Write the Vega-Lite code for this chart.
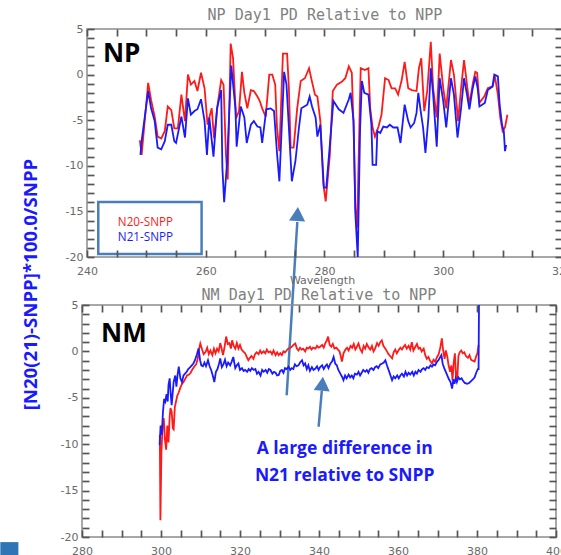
{
  "$schema": "https://vega.github.io/schema/vega-lite/v6.json",
  "background": "white",
  "autosize": {"type": "pad"},
  "padding": {"left": 0, "top": 8, "right": 0, "bottom": 0},
  "config": {
    "view": {"stroke": null},
    "axis": {"domain": false, "grid": false, "labelColor": "#6a6a6a", "labelFont": "DejaVu Sans", "labelFontSize": 11, "tickColor": "#555555", "tickWidth": 1.7, "labelFlush": false, "labelOverlap": false, "titleColor": "#6a6a6a", "titleFont": "DejaVu Sans", "titleFontSize": 11, "titleFontWeight": "normal"},
    "title": {"font": "DejaVu Sans Mono", "fontSize": 15, "fontWeight": "normal", "color": "#808080"}
  },
  "datasets": {
    "np20": [
      {"x":248.9,"y":-7.2},{"x":249.2,"y":-8.8},{"x":250.3,"y":-0.9},{"x":250.8,"y":-2.8},{"x":251.4,"y":-4.6},{"x":251.9,"y":-6.8},{"x":252.5,"y":-7.0},{"x":253.1,"y":-6.2},{"x":253.6,"y":-3.5},{"x":254.2,"y":-3.9},{"x":254.7,"y":-5.9},{"x":255.3,"y":-5.9},{"x":255.9,"y":-2.2},{"x":256.2,"y":-3.7},{"x":256.5,"y":-5.1},{"x":257.0,"y":0.0},{"x":257.5,"y":-1.1},{"x":258.1,"y":-0.7},{"x":258.6,"y":-1.8},{"x":259.2,"y":0.2},{"x":259.8,"y":-1.5},{"x":260.3,"y":-5.5},{"x":261.0,"y":-3.7},{"x":261.4,"y":-7.0},{"x":262.0,"y":-3.3},{"x":262.6,"y":-0.6},{"x":263.0,"y":-1.1},{"x":263.4,"y":-8.8},{"x":263.7,"y":-11.5},{"x":264.2,"y":3.4},{"x":264.6,"y":1.8},{"x":265.1,"y":-4.8},{"x":265.6,"y":-4.0},{"x":266.1,"y":0.3},{"x":266.5,"y":-2.0},{"x":267.0,"y":-3.7},{"x":267.6,"y":-1.7},{"x":268.1,"y":-1.8},{"x":268.7,"y":-2.4},{"x":269.1,"y":-2.9},{"x":269.5,"y":-3.7},{"x":270.1,"y":-4.6},{"x":270.7,"y":0.0},{"x":271.2,"y":0.0},{"x":271.7,"y":-1.1},{"x":272.0,"y":-5.8},{"x":272.4,"y":-8.4},{"x":273.0,"y":2.3},{"x":273.7,"y":2.3},{"x":274.0,"y":-1.5},{"x":274.3,"y":-8.0},{"x":274.8,"y":-8.0},{"x":275.4,"y":-3.7},{"x":276.0,"y":-0.7},{"x":276.7,"y":-0.4},{"x":277.4,"y":0.7},{"x":277.9,"y":-0.8},{"x":278.4,"y":-2.2},{"x":278.8,"y":-2.4},{"x":279.3,"y":-5.1},{"x":279.8,"y":-12.0},{"x":280.2,"y":-13.9},{"x":280.9,"y":-8.8},{"x":281.4,"y":-1.8},{"x":282.1,"y":-1.1},{"x":282.9,"y":-0.8},{"x":283.5,"y":-0.4},{"x":284.1,"y":0.9},{"x":284.6,"y":0.2},{"x":284.9,"y":-5.8},{"x":285.2,"y":-14.6},{"x":285.5,"y":-16.8},{"x":285.9,"y":-4.8},{"x":286.1,"y":0.7},{"x":286.8,"y":0.5},{"x":287.4,"y":0.7},{"x":287.7,"y":-3.7},{"x":288.1,"y":-5.8},{"x":288.5,"y":-6.8},{"x":289.1,"y":-5.7},{"x":289.6,"y":-4.4},{"x":290.2,"y":-0.4},{"x":290.8,"y":-0.6},{"x":291.3,"y":-1.5},{"x":291.9,"y":-1.5},{"x":292.4,"y":-2.2},{"x":293.0,"y":-0.6},{"x":293.5,"y":1.4},{"x":294.1,"y":-1.5},{"x":294.7,"y":-1.7},{"x":295.5,"y":-1.8},{"x":295.9,"y":0.7},{"x":296.3,"y":1.8},{"x":296.8,"y":-4.0},{"x":297.3,"y":-1.8},{"x":297.9,"y":3.6},{"x":298.3,"y":-1.5},{"x":298.9,"y":-4.7},{"x":299.4,"y":2.3},{"x":300.0,"y":-1.5},{"x":300.5,"y":-3.7},{"x":301.3,"y":1.6},{"x":301.8,"y":0.0},{"x":302.5,"y":-5.1},{"x":303.0,"y":-1.5},{"x":303.5,"y":1.6},{"x":304.0,"y":-1.1},{"x":304.4,"y":-3.3},{"x":305.0,"y":-0.9},{"x":305.4,"y":0.3},{"x":305.7,"y":0.2},{"x":306.1,"y":-3.1},{"x":306.9,"y":-2.4},{"x":307.5,"y":-1.5},{"x":308.3,"y":-1.3},{"x":308.7,"y":-0.2},{"x":309.2,"y":-2.2},{"x":309.6,"y":-4.7},{"x":310.0,"y":-6.2},{"x":310.4,"y":-5.8},{"x":310.8,"y":-4.4}
    ],
    "np21": [
      {"x":249.0,"y":-8.8},{"x":249.2,"y":-7.3},{"x":250.3,"y":-1.8},{"x":250.8,"y":-3.7},{"x":251.4,"y":-5.1},{"x":251.9,"y":-8.0},{"x":252.5,"y":-8.2},{"x":253.1,"y":-7.3},{"x":253.6,"y":-5.5},{"x":254.2,"y":-5.5},{"x":254.7,"y":-7.3},{"x":255.0,"y":-7.5},{"x":255.9,"y":-4.6},{"x":256.5,"y":-6.9},{"x":257.0,"y":-2.6},{"x":257.5,"y":-4.4},{"x":258.1,"y":-4.0},{"x":258.6,"y":-3.8},{"x":259.2,"y":-2.7},{"x":259.8,"y":-5.1},{"x":260.2,"y":-8.8},{"x":260.6,"y":-4.7},{"x":261.3,"y":-9.0},{"x":261.9,"y":-3.7},{"x":262.6,"y":-1.7},{"x":262.8,"y":-10.2},{"x":263.1,"y":-14.0},{"x":263.6,"y":-9.5},{"x":264.3,"y":1.0},{"x":265.0,"y":-3.7},{"x":265.2,"y":-7.9},{"x":265.9,"y":-3.5},{"x":266.5,"y":-4.7},{"x":266.9,"y":-7.5},{"x":267.6,"y":-5.5},{"x":268.1,"y":-5.1},{"x":268.7,"y":-5.7},{"x":269.2,"y":-5.8},{"x":269.5,"y":-7.5},{"x":270.2,"y":-3.8},{"x":270.9,"y":-3.7},{"x":271.5,"y":-4.0},{"x":272.0,"y":-8.6},{"x":272.4,"y":-11.7},{"x":273.2,"y":0.3},{"x":273.6,"y":-1.1},{"x":274.0,"y":-5.8},{"x":274.5,"y":-11.7},{"x":275.1,"y":-9.5},{"x":275.7,"y":-5.8},{"x":276.1,"y":-3.7},{"x":277.1,"y":-3.3},{"x":277.5,"y":-2.4},{"x":277.9,"y":-3.5},{"x":278.5,"y":-4.7},{"x":278.8,"y":-6.8},{"x":279.3,"y":-5.5},{"x":279.9,"y":-12.4},{"x":280.3,"y":-12.4},{"x":280.9,"y":-7.7},{"x":281.5,"y":-2.9},{"x":282.4,"y":-3.8},{"x":283.2,"y":-4.2},{"x":284.1,"y":-2.7},{"x":284.4,"y":-2.0},{"x":284.9,"y":-5.1},{"x":285.2,"y":-15.3},{"x":285.6,"y":-20.0},{"x":286.0,"y":-5.8},{"x":286.3,"y":-0.7},{"x":286.7,"y":-2.0},{"x":287.4,"y":-2.2},{"x":287.9,"y":-5.5},{"x":288.1,"y":-9.9},{"x":288.7,"y":-9.9},{"x":288.9,"y":-6.2},{"x":289.4,"y":-6.4},{"x":289.9,"y":-5.7},{"x":290.5,"y":-5.8},{"x":291.0,"y":-5.5},{"x":291.6,"y":-5.8},{"x":292.3,"y":-5.8},{"x":292.8,"y":-7.5},{"x":293.5,"y":-3.3},{"x":294.1,"y":-5.1},{"x":294.5,"y":-5.8},{"x":295.1,"y":-5.3},{"x":295.5,"y":-4.2},{"x":295.8,"y":-2.0},{"x":296.2,"y":-4.0},{"x":296.6,"y":-5.8},{"x":297.0,"y":-8.6},{"x":297.5,"y":-4.7},{"x":297.9,"y":0.7},{"x":298.3,"y":-2.2},{"x":298.9,"y":-7.9},{"x":299.4,"y":-0.4},{"x":300.0,"y":-2.9},{"x":300.5,"y":-5.8},{"x":301.3,"y":-0.4},{"x":301.8,"y":-2.2},{"x":302.4,"y":-6.9},{"x":303.0,"y":-3.7},{"x":303.5,"y":-0.4},{"x":304.0,"y":-2.2},{"x":304.4,"y":-3.8},{"x":304.9,"y":-1.7},{"x":305.4,"y":-0.2},{"x":305.8,"y":-1.5},{"x":306.1,"y":-3.5},{"x":307.0,"y":-3.1},{"x":307.5,"y":-1.7},{"x":308.3,"y":-1.3},{"x":308.6,"y":0.0},{"x":309.2,"y":-0.2},{"x":309.5,"y":-3.3},{"x":309.9,"y":-5.5},{"x":310.2,"y":-6.2},{"x":310.4,"y":-8.4},{"x":310.6,"y":-7.7}
    ],
    "nm20": [
      {"x":299.7,"y":-9.0},{"x":299.85,"y":-18.2},{"x":300.1,"y":-11.0},{"x":300.4,"y":-8.0},{"x":300.7,"y":-7.2},{"x":301.0,"y":-9.5},{"x":301.3,"y":-10.6},{"x":301.6,"y":-8.0},{"x":301.9,"y":-9.8},{"x":302.2,"y":-7.0},{"x":302.4,"y":-6.1},{"x":302.7,"y":-6.5},{"x":303.0,"y":-8.3},{"x":303.2,"y":-8.4},{"x":303.5,"y":-6.0},{"x":303.8,"y":-5.4},{"x":304.1,"y":-4.8},{"x":304.5,"y":-4.4},{"x":304.9,"y":-3.9},{"x":305.3,"y":-3.5},{"x":305.7,"y":-3.3},{"x":306.2,"y":-2.9},{"x":306.6,"y":-2.6},{"x":307.1,"y":-2.5},{"x":307.5,"y":-2.3},{"x":308.0,"y":-1.9},{"x":308.4,"y":-1.65},{"x":308.9,"y":-1.4},{"x":309.3,"y":-0.8},{"x":309.6,"y":0.2},{"x":309.95,"y":0.85},{"x":310.4,"y":0.2},{"x":310.8,"y":-0.3},{"x":311.3,"y":-0.05},{"x":311.7,"y":0.4},{"x":312.1,"y":-0.3},{"x":312.5,"y":0.1},{"x":313.0,"y":-0.4},{"x":313.4,"y":0.3},{"x":313.8,"y":-0.2},{"x":314.2,"y":0.3},{"x":314.6,"y":0.0},{"x":315.0,"y":0.9},{"x":315.3,"y":0.4},{"x":315.7,"y":-0.4},{"x":316.1,"y":0.5},{"x":316.5,"y":1.6},{"x":316.9,"y":0.8},{"x":317.3,"y":0.9},{"x":317.7,"y":0.3},{"x":318.0,"y":1.2},{"x":318.4,"y":0.6},{"x":318.8,"y":0.3},{"x":319.2,"y":0.9},{"x":319.6,"y":0.3},{"x":320.0,"y":0.7},{"x":320.4,"y":0.2},{"x":320.8,"y":0.0},{"x":321.3,"y":-0.2},{"x":321.7,"y":-0.6},{"x":322.1,"y":-0.95},{"x":322.5,"y":-0.7},{"x":322.9,"y":-0.5},{"x":323.4,"y":-0.8},{"x":323.8,"y":-0.3},{"x":324.2,"y":-0.1},{"x":324.7,"y":-0.3},{"x":325.1,"y":0.1},{"x":325.5,"y":-0.2},{"x":326.0,"y":0.0},{"x":326.4,"y":-0.2},{"x":326.8,"y":0.2},{"x":327.2,"y":-0.1},{"x":327.7,"y":0.0},{"x":328.1,"y":-0.3},{"x":328.5,"y":0.1},{"x":329.0,"y":-0.4},{"x":329.4,"y":-0.1},{"x":329.8,"y":-0.4},{"x":330.2,"y":-0.2},{"x":330.6,"y":-0.4},{"x":331.0,"y":0.0},{"x":331.4,"y":-0.1},{"x":331.8,"y":0.1},{"x":332.2,"y":0.3},{"x":332.7,"y":0.4},{"x":333.1,"y":0.5},{"x":333.5,"y":0.7},{"x":334.0,"y":0.85},{"x":334.4,"y":0.3},{"x":334.8,"y":0.1},{"x":335.2,"y":0.4},{"x":335.6,"y":0.2},{"x":336.0,"y":0.3},{"x":336.5,"y":0.0},{"x":336.9,"y":0.4},{"x":337.3,"y":0.3},{"x":337.7,"y":0.5},{"x":338.1,"y":0.2},{"x":338.5,"y":0.4},{"x":339.1,"y":0.3},{"x":339.5,"y":0.6},{"x":339.9,"y":0.4},{"x":340.3,"y":0.5},{"x":340.8,"y":0.7},{"x":341.2,"y":0.4},{"x":341.6,"y":0.9},{"x":342.0,"y":1.2},{"x":342.3,"y":1.6},{"x":342.7,"y":0.7},{"x":343.1,"y":0.5},{"x":343.5,"y":0.8},{"x":343.9,"y":0.3},{"x":344.4,"y":0.4},{"x":344.8,"y":0.2},{"x":345.2,"y":0.0},{"x":345.5,"y":-0.5},{"x":345.8,"y":-1.1},{"x":346.2,"y":-0.2},{"x":346.7,"y":0.2},{"x":347.1,"y":0.4},{"x":347.5,"y":0.1},{"x":348.0,"y":0.6},{"x":348.4,"y":0.4},{"x":348.8,"y":0.8},{"x":349.2,"y":0.2},{"x":349.6,"y":0.5},{"x":350.0,"y":0.85},{"x":350.4,"y":0.3},{"x":350.9,"y":-0.1},{"x":351.3,"y":0.6},{"x":351.7,"y":0.3},{"x":352.1,"y":0.8},{"x":352.6,"y":0.4},{"x":353.0,"y":0.2},{"x":353.4,"y":0.6},{"x":353.8,"y":0.0},{"x":354.2,"y":0.3},{"x":354.7,"y":0.9},{"x":355.1,"y":0.6},{"x":355.5,"y":1.0},{"x":355.9,"y":1.2},{"x":356.3,"y":0.6},{"x":356.8,"y":0.3},{"x":357.2,"y":0.0},{"x":357.6,"y":-0.3},{"x":358.0,"y":-0.5},{"x":358.5,"y":-0.75},{"x":358.9,"y":-0.1},{"x":359.3,"y":0.2},{"x":359.7,"y":-0.2},{"x":360.1,"y":0.1},{"x":360.6,"y":0.4},{"x":361.0,"y":0.2},{"x":361.4,"y":0.5},{"x":361.8,"y":0.7},{"x":362.2,"y":0.3},{"x":362.7,"y":0.6},{"x":363.1,"y":0.2},{"x":363.5,"y":1.0},{"x":363.9,"y":0.1},{"x":364.4,"y":0.5},{"x":364.8,"y":0.8},{"x":365.2,"y":0.3},{"x":365.6,"y":0.4},{"x":366.0,"y":0.0},{"x":366.5,"y":0.3},{"x":366.9,"y":-0.4},{"x":367.3,"y":-0.8},{"x":367.7,"y":-0.6},{"x":368.1,"y":-1.0},{"x":368.6,"y":-1.3},{"x":369.0,"y":-0.9},{"x":369.4,"y":-1.1},{"x":369.9,"y":-0.6},{"x":370.3,"y":-0.3},{"x":370.7,"y":0.4},{"x":371.1,"y":1.4},{"x":371.4,"y":0.2},{"x":371.8,"y":-0.8},{"x":372.1,"y":0.1},{"x":372.5,"y":-0.6},{"x":372.8,"y":-1.5},{"x":373.2,"y":-2.2},{"x":373.5,"y":-1.5},{"x":373.8,"y":-3.1},{"x":374.1,"y":-1.2},{"x":374.4,"y":-0.2},{"x":374.7,"y":-2.8},{"x":375.0,"y":-3.0},{"x":375.3,"y":-0.5},{"x":375.6,"y":-0.1},{"x":376.0,"y":0.1},{"x":376.4,"y":-0.2},{"x":376.8,"y":-0.1},{"x":377.2,"y":-0.5},{"x":377.7,"y":-0.7},{"x":378.1,"y":-0.4},{"x":378.5,"y":-0.9},{"x":378.9,"y":-1.0},{"x":379.4,"y":-1.1},{"x":379.8,"y":-0.5},{"x":380.1,"y":-0.2},{"x":380.4,"y":0.7}
    ],
    "nm21": [
      {"x":299.65,"y":-10.1},{"x":299.9,"y":-8.0},{"x":300.2,"y":-9.0},{"x":300.5,"y":-6.5},{"x":300.8,"y":-5.1},{"x":301.1,"y":-5.4},{"x":301.4,"y":-4.6},{"x":301.7,"y":-5.4},{"x":301.9,"y":-3.6},{"x":302.2,"y":-2.9},{"x":302.4,"y":-4.3},{"x":302.7,"y":-5.8},{"x":302.9,"y":-4.8},{"x":303.2,"y":-3.3},{"x":303.6,"y":-2.6},{"x":303.9,"y":-3.8},{"x":304.2,"y":-2.5},{"x":304.5,"y":-1.65},{"x":304.9,"y":-2.9},{"x":305.3,"y":-3.3},{"x":305.7,"y":-2.6},{"x":306.1,"y":-2.4},{"x":306.5,"y":-2.2},{"x":306.9,"y":-1.9},{"x":307.4,"y":-1.7},{"x":307.8,"y":-1.5},{"x":308.2,"y":-1.3},{"x":308.6,"y":-0.95},{"x":309.1,"y":-0.3},{"x":309.5,"y":0.3},{"x":309.9,"y":-0.95},{"x":310.2,"y":-1.5},{"x":310.6,"y":-1.6},{"x":311.0,"y":-1.2},{"x":311.4,"y":-1.6},{"x":311.9,"y":-0.95},{"x":312.3,"y":-1.6},{"x":312.7,"y":-2.0},{"x":313.1,"y":-2.6},{"x":313.5,"y":-3.3},{"x":313.9,"y":-2.2},{"x":314.3,"y":-1.9},{"x":314.7,"y":-1.3},{"x":315.0,"y":-0.75},{"x":315.4,"y":-1.7},{"x":315.8,"y":-1.4},{"x":316.2,"y":-0.9},{"x":316.6,"y":-1.6},{"x":317.0,"y":-1.2},{"x":317.5,"y":-1.5},{"x":317.9,"y":-1.1},{"x":318.3,"y":-0.6},{"x":318.8,"y":-1.8},{"x":319.2,"y":-1.5},{"x":319.6,"y":-1.3},{"x":320.0,"y":-2.0},{"x":320.5,"y":-1.8},{"x":320.9,"y":-2.1},{"x":321.3,"y":-2.0},{"x":321.8,"y":-2.2},{"x":322.2,"y":-1.9},{"x":322.6,"y":-2.1},{"x":323.0,"y":-1.8},{"x":323.5,"y":-2.0},{"x":323.9,"y":-1.9},{"x":324.3,"y":-2.4},{"x":324.7,"y":-2.2},{"x":325.2,"y":-2.6},{"x":325.6,"y":-2.0},{"x":326.0,"y":-2.2},{"x":326.5,"y":-2.0},{"x":326.9,"y":-2.3},{"x":327.3,"y":-1.9},{"x":327.7,"y":-2.0},{"x":328.2,"y":-2.4},{"x":328.6,"y":-2.2},{"x":329.0,"y":-2.3},{"x":329.4,"y":-2.6},{"x":329.8,"y":-2.55},{"x":330.2,"y":-2.1},{"x":330.6,"y":-2.0},{"x":331.0,"y":-2.3},{"x":331.4,"y":-1.8},{"x":331.8,"y":-1.9},{"x":332.3,"y":-1.65},{"x":332.7,"y":-2.0},{"x":333.1,"y":-1.8},{"x":333.5,"y":-1.9},{"x":333.9,"y":-1.4},{"x":334.3,"y":-1.6},{"x":334.8,"y":-1.5},{"x":335.2,"y":-1.2},{"x":335.7,"y":-0.95},{"x":336.1,"y":-1.5},{"x":336.5,"y":-1.3},{"x":336.9,"y":-1.9},{"x":337.3,"y":-1.5},{"x":337.7,"y":-2.1},{"x":338.2,"y":-1.7},{"x":338.6,"y":-2.0},{"x":339.1,"y":-1.85},{"x":339.5,"y":-1.6},{"x":339.9,"y":-2.0},{"x":340.3,"y":-1.7},{"x":340.8,"y":-1.5},{"x":341.2,"y":-1.9},{"x":341.6,"y":-1.6},{"x":342.0,"y":-1.4},{"x":342.4,"y":-1.8},{"x":342.9,"y":-1.3},{"x":343.3,"y":-1.1},{"x":343.7,"y":-0.6},{"x":344.1,"y":-1.3},{"x":344.5,"y":-1.5},{"x":344.9,"y":-2.0},{"x":345.4,"y":-2.4},{"x":345.8,"y":-2.7},{"x":346.2,"y":-3.1},{"x":346.6,"y":-2.6},{"x":347.0,"y":-2.9},{"x":347.5,"y":-2.5},{"x":347.9,"y":-2.8},{"x":348.3,"y":-2.6},{"x":348.7,"y":-2.9},{"x":349.1,"y":-2.4},{"x":349.6,"y":-2.5},{"x":350.0,"y":-2.2},{"x":350.4,"y":-2.6},{"x":350.8,"y":-2.3},{"x":351.2,"y":-2.0},{"x":351.7,"y":-2.2},{"x":352.1,"y":-2.0},{"x":352.5,"y":-2.3},{"x":352.9,"y":-1.9},{"x":353.3,"y":-1.8},{"x":353.8,"y":-2.0},{"x":354.2,"y":-1.7},{"x":354.6,"y":-1.6},{"x":355.0,"y":-1.8},{"x":355.5,"y":-1.4},{"x":356.0,"y":-1.3},{"x":356.4,"y":-1.2},{"x":356.8,"y":-0.95},{"x":357.2,"y":-1.5},{"x":357.7,"y":-2.1},{"x":358.1,"y":-2.6},{"x":358.5,"y":-3.1},{"x":358.9,"y":-2.7},{"x":359.3,"y":-2.9},{"x":359.8,"y":-2.6},{"x":360.2,"y":-2.9},{"x":360.6,"y":-2.6},{"x":361.0,"y":-2.4},{"x":361.5,"y":-2.7},{"x":361.9,"y":-2.2},{"x":362.3,"y":-2.6},{"x":362.7,"y":-2.3},{"x":363.1,"y":-2.5},{"x":363.6,"y":-2.2},{"x":364.0,"y":-2.6},{"x":364.4,"y":-2.2},{"x":364.8,"y":-2.4},{"x":365.2,"y":-2.0},{"x":365.7,"y":-2.2},{"x":366.1,"y":-1.9},{"x":366.5,"y":-1.8},{"x":366.9,"y":-2.0},{"x":367.3,"y":-1.7},{"x":367.8,"y":-1.8},{"x":368.2,"y":-1.5},{"x":368.6,"y":-1.65},{"x":369.0,"y":-1.4},{"x":369.4,"y":-1.5},{"x":369.9,"y":-1.1},{"x":370.3,"y":-0.9},{"x":370.7,"y":-0.6},{"x":371.0,"y":-0.4},{"x":371.3,"y":-1.3},{"x":371.7,"y":-1.8},{"x":372.1,"y":-2.2},{"x":372.5,"y":-2.6},{"x":372.9,"y":-3.0},{"x":373.3,"y":-3.3},{"x":373.7,"y":-4.0},{"x":374.0,"y":-3.0},{"x":374.3,"y":-3.5},{"x":374.6,"y":-2.9},{"x":374.9,"y":-3.3},{"x":375.3,"y":-2.8},{"x":375.7,"y":-3.0},{"x":376.1,"y":-2.9},{"x":376.5,"y":-3.2},{"x":376.9,"y":-3.4},{"x":377.5,"y":-3.5},{"x":378.0,"y":-3.4},{"x":378.5,"y":-3.2},{"x":379.0,"y":-3.0},{"x":379.4,"y":-2.8},{"x":379.8,"y":-2.3},{"x":380.2,"y":-1.9},{"x":380.4,"y":-1.9},{"x":380.5,"y":5.0}
    ]
  },
  "bounds": "flush",
  "spacing": 48,
  "vconcat": [
    {
      "width": 480,
      "height": 228,
      "title": {"text": "NP Day1 PD Relative to NPP", "offset": 0, "dx": 3},
      "layer": [
        {
          "data": {"values": [{"x0": 240, "x1": 320, "y0": -20, "y1": 5}]},
          "mark": {"type": "rect", "fill": "transparent", "stroke": "#8c8c8c", "strokeWidth": 1.5},
          "encoding": {
            "x": {"field": "x0", "type": "quantitative", "scale": {"domain": [239.158, 320], "nice": false, "zero": false},
              "axis": {"orient": "bottom", "values": [240,245,250,255,260,265,270,275,280,285,290,295,300,305,310,315,320], "labelExpr": "datum.value % 20 === 0 ? '' + datum.value : ''", "tickSize": -7, "tickColor": "#555555", "zindex": 5, "labelPadding": 15, "title": "Wavelength", "titlePadding": -2}},
            "x2": {"field": "x1"},
            "y": {"field": "y0", "type": "quantitative", "scale": {"domain": [-20, 5], "nice": false, "zero": false},
              "axis": {"orient": "left", "offset": -5, "values": [-20,-19,-18,-17,-16,-15,-14,-13,-12,-11,-10,-9,-8,-7,-6,-5,-4,-3,-2,-1,0,1,2,3,4,5], "labelExpr": "datum.value % 5 === 0 ? '' + datum.value : ''", "tickSize": -7, "tickColor": "#555555", "zindex": 5, "labelPadding": 11, "title": null}},
            "y2": {"field": "y1"}
          }
        },
        {
          "data": {"name": "np20"},
          "mark": {"type": "line", "color": "#ff1a1a", "strokeWidth": 1.8},
          "encoding": {
            "x": {"field": "x", "type": "quantitative", "scale": {"domain": [239.158, 320], "nice": false, "zero": false},
              "axis": {"orient": "top", "values": [240,245,250,255,260,265,270,275,280,285,290,295,300,305,310,315,320], "labels": false, "tickSize": -7, "tickColor": "#555555", "zindex": 5, "title": null}},
            "y": {"field": "y", "type": "quantitative", "scale": {"domain": [-20, 5], "nice": false, "zero": false},
              "axis": {"orient": "right", "values": [-20,-19,-18,-17,-16,-15,-14,-13,-12,-11,-10,-9,-8,-7,-6,-5,-4,-3,-2,-1,0,1,2,3,4,5], "labels": false, "tickSize": -7, "tickColor": "#555555", "zindex": 5, "title": null}}
          }
        },
        {
          "data": {"name": "np21"},
          "mark": {"type": "line", "color": "#1a1aff", "strokeWidth": 1.8},
          "encoding": {
            "x": {"field": "x", "type": "quantitative", "scale": {"domain": [239.158, 320], "nice": false, "zero": false}, "axis": null},
            "y": {"field": "y", "type": "quantitative", "scale": {"domain": [-20, 5], "nice": false, "zero": false}, "axis": null}
          }
        },
        {
          "data": {"values": [{}]},
          "mark": {"type": "rect", "fill": "white", "stroke": "#4a7ebb", "strokeWidth": 2.5},
          "encoding": {
            "x": {"datum": 241.9, "type": "quantitative", "scale": {"domain": [239.158, 320], "nice": false, "zero": false}, "axis": null},
            "x2": {"datum": 259.3},
            "y": {"datum": -13.97, "type": "quantitative", "scale": {"domain": [-20, 5], "nice": false, "zero": false}, "axis": null},
            "y2": {"datum": -19.67}
          }
        },
        {
          "data": {"values": [{}]},
          "mark": {"type": "text", "text": "N20-SNPP", "font": "Open Sans", "fontSize": 11.7, "color": "#ff1a1a", "align": "left", "baseline": "alphabetic"},
          "encoding": {
            "x": {"datum": 245.2, "type": "quantitative", "scale": {"domain": [239.158, 320], "nice": false, "zero": false}, "axis": null},
            "y": {"datum": -16.55, "type": "quantitative", "scale": {"domain": [-20, 5], "nice": false, "zero": false}, "axis": null}
          }
        },
        {
          "data": {"values": [{}]},
          "mark": {"type": "text", "text": "N21-SNPP", "font": "Open Sans", "fontSize": 11.7, "color": "#1a1aff", "align": "left", "baseline": "alphabetic"},
          "encoding": {
            "x": {"datum": 245.2, "type": "quantitative", "scale": {"domain": [239.158, 320], "nice": false, "zero": false}, "axis": null},
            "y": {"datum": -18.3, "type": "quantitative", "scale": {"domain": [-20, 5], "nice": false, "zero": false}, "axis": null}
          }
        },
        {
          "data": {"values": [{}]},
          "mark": {"type": "text", "text": "NP", "font": "Open Sans", "fontSize": 26, "fontWeight": "bold", "color": "black", "align": "left", "baseline": "alphabetic"},
          "encoding": {
            "x": {"datum": 242.69, "type": "quantitative", "scale": {"domain": [239.158, 320], "nice": false, "zero": false}, "axis": null},
            "y": {"datum": 1.38, "type": "quantitative", "scale": {"domain": [-20, 5], "nice": false, "zero": false}, "axis": null}
          }
        },
        {
          "data": {"values": [{}]},
          "mark": {"type": "text", "text": "[N20(21)-SNPP]*100.0/SNPP", "font": "Open Sans", "fontSize": 18.6, "fontWeight": "bold", "color": "#1a1aff", "angle": 270, "align": "center", "baseline": "middle"},
          "encoding": {
            "x": {"datum": 230.57, "type": "quantitative", "scale": {"domain": [239.158, 320], "nice": false, "zero": false}, "axis": null},
            "y": {"datum": -23.02, "type": "quantitative", "scale": {"domain": [-20, 5], "nice": false, "zero": false}, "axis": null}
          }
        },
        {
          "data": {"values": [{}]},
          "mark": {"type": "rule", "color": "#4a7ebb", "strokeWidth": 2.5},
          "encoding": {
            "x": {"datum": 273.63, "type": "quantitative", "scale": {"domain": [239.158, 320], "nice": false, "zero": false}, "axis": null},
            "y": {"datum": -35.16, "type": "quantitative", "scale": {"domain": [-20, 5], "nice": false, "zero": false}, "axis": null},
            "x2": {"datum": 275.42},
            "y2": {"datum": -16.16}
          }
        },
        {
          "data": {"values": [{}]},
          "mark": {"type": "point", "shape": "triangle-up", "filled": true, "color": "#4a7ebb", "opacity": 1, "size": 260, "angle": 3.5},
          "encoding": {
            "x": {"datum": 275.45, "type": "quantitative", "scale": {"domain": [239.158, 320], "nice": false, "zero": false}, "axis": null},
            "y": {"datum": -15.28, "type": "quantitative", "scale": {"domain": [-20, 5], "nice": false, "zero": false}, "axis": null}
          }
        }
      ],
      "resolve": {"axis": {"x": "independent", "y": "independent"}}
    },
    {
      "width": 474,
      "height": 232,
      "title": {"text": "NM Day1 PD Relative to NPP", "offset": -4},
      "layer": [
        {
          "data": {"values": [{"x0": 280, "x1": 400, "y0": -20, "y1": 5}]},
          "mark": {"type": "rect", "fill": "transparent", "stroke": "#8c8c8c", "strokeWidth": 1.5},
          "encoding": {
            "x": {"field": "x0", "type": "quantitative", "scale": {"domain": [280, 400], "nice": false, "zero": false},
              "axis": {"orient": "bottom", "values": [280,285,290,295,300,305,310,315,320,325,330,335,340,345,350,355,360,365,370,375,380,385,390,395,400], "labelExpr": "datum.value % 20 === 0 ? '' + datum.value : ''", "tickSize": -7, "tickColor": "#555555", "zindex": 5, "labelPadding": 15, "title": "Wavelength", "titlePadding": 0}},
            "x2": {"field": "x1"},
            "y": {"field": "y0", "type": "quantitative", "scale": {"domain": [-20, 5], "nice": false, "zero": false},
              "axis": {"orient": "left", "values": [-20,-19,-18,-17,-16,-15,-14,-13,-12,-11,-10,-9,-8,-7,-6,-5,-4,-3,-2,-1,0,1,2,3,4,5], "labelExpr": "datum.value % 5 === 0 ? '' + datum.value : ''", "tickSize": -7, "tickColor": "#555555", "zindex": 5, "labelPadding": 11, "title": null}},
            "y2": {"field": "y1"}
          }
        },
        {
          "data": {"name": "nm20"},
          "mark": {"type": "line", "color": "#ff1a1a", "strokeWidth": 1.8},
          "encoding": {
            "x": {"field": "x", "type": "quantitative", "scale": {"domain": [280, 400], "nice": false, "zero": false},
              "axis": {"orient": "top", "values": [280,285,290,295,300,305,310,315,320,325,330,335,340,345,350,355,360,365,370,375,380,385,390,395,400], "labels": false, "tickSize": -7, "tickColor": "#555555", "zindex": 5, "title": null}},
            "y": {"field": "y", "type": "quantitative", "scale": {"domain": [-20, 5], "nice": false, "zero": false},
              "axis": {"orient": "right", "values": [-20,-19,-18,-17,-16,-15,-14,-13,-12,-11,-10,-9,-8,-7,-6,-5,-4,-3,-2,-1,0,1,2,3,4,5], "labels": false, "tickSize": -7, "tickColor": "#555555", "zindex": 5, "title": null}}
          }
        },
        {
          "data": {"name": "nm21"},
          "mark": {"type": "line", "color": "#1a1aff", "strokeWidth": 1.8},
          "encoding": {
            "x": {"field": "x", "type": "quantitative", "scale": {"domain": [280, 400], "nice": false, "zero": false}, "axis": null},
            "y": {"field": "y", "type": "quantitative", "scale": {"domain": [-20, 5], "nice": false, "zero": false}, "axis": null}
          }
        },
        {
          "data": {"values": [{}]},
          "mark": {"type": "text", "text": "NM", "font": "Open Sans", "fontSize": 26, "fontWeight": "bold", "color": "black", "align": "left", "baseline": "alphabetic"},
          "encoding": {
            "x": {"datum": 284.81, "type": "quantitative", "scale": {"domain": [280, 400], "nice": false, "zero": false}, "axis": null},
            "y": {"datum": 0.97, "type": "quantitative", "scale": {"domain": [-20, 5], "nice": false, "zero": false}, "axis": null}
          }
        },
        {
          "data": {"values": [{}]},
          "mark": {"type": "text", "text": ["A large difference in", "N21 relative to SNPP"], "lineHeight": 26.3, "font": "Open Sans", "fontSize": 17.5, "fontWeight": "bold", "color": "#1a1aff", "align": "center", "baseline": "alphabetic"},
          "encoding": {
            "x": {"datum": 346.5, "type": "quantitative", "scale": {"domain": [280, 400], "nice": false, "zero": false}, "axis": null},
            "y": {"datum": -11.1, "type": "quantitative", "scale": {"domain": [-20, 5], "nice": false, "zero": false}, "axis": null}
          }
        },
        {
          "data": {"values": [{}]},
          "mark": {"type": "rule", "color": "#4a7ebb", "strokeWidth": 2.5},
          "encoding": {
            "x": {"datum": 339.9, "type": "quantitative", "scale": {"domain": [280, 400], "nice": false, "zero": false}, "axis": null},
            "y": {"datum": -8.12, "type": "quantitative", "scale": {"domain": [-20, 5], "nice": false, "zero": false}, "axis": null},
            "x2": {"datum": 340.71},
            "y2": {"datum": -4.24}
          }
        },
        {
          "data": {"values": [{}]},
          "mark": {"type": "point", "shape": "triangle-up", "filled": true, "color": "#4a7ebb", "opacity": 1, "size": 260, "angle": 5},
          "encoding": {
            "x": {"datum": 340.84, "type": "quantitative", "scale": {"domain": [280, 400], "nice": false, "zero": false}, "axis": null},
            "y": {"datum": -3.49, "type": "quantitative", "scale": {"domain": [-20, 5], "nice": false, "zero": false}, "axis": null}
          }
        },
        {
          "data": {"values": [{}]},
          "mark": {"type": "rect", "color": "#2f75b5"},
          "encoding": {
            "x": {"datum": 259.32, "type": "quantitative", "scale": {"domain": [280, 400], "nice": false, "zero": false}, "axis": null},
            "x2": {"datum": 263.9},
            "y": {"datum": -20.55, "type": "quantitative", "scale": {"domain": [-20, 5], "nice": false, "zero": false}, "axis": null},
            "y2": {"datum": -22.5}
          }
        }
      ],
      "resolve": {"axis": {"x": "independent", "y": "independent"}}
    }
  ]
}
